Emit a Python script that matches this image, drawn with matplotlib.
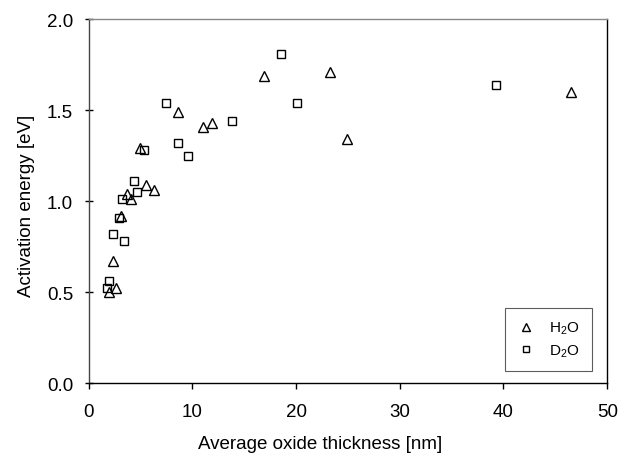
import matplotlib
matplotlib.use("Agg")
import matplotlib.pyplot as plt

plt.rcParams['font.family'] = ['Liberation Sans', 'DejaVu Sans']
plt.rcParams['mathtext.fontset'] = 'custom'
plt.rcParams['mathtext.rm'] = 'Liberation Sans'
plt.rcParams['mathtext.it'] = 'Liberation Sans:italic'
plt.rcParams['mathtext.bf'] = 'Liberation Sans:bold'

h2o_x = [2.0, 2.65, 2.4, 3.1, 3.7, 4.1, 5.0, 5.5, 6.3, 8.6, 11.0, 11.9, 16.9, 23.3, 24.9, 46.5]
h2o_y = [0.50, 0.52, 0.67, 0.92, 1.04, 1.01, 1.29, 1.09, 1.06, 1.49, 1.41, 1.43, 1.69, 1.71, 1.34, 1.60]

d2o_x = [1.8, 2.0, 2.4, 2.9, 3.2, 3.4, 4.4, 4.7, 5.3, 7.5, 8.6, 9.6, 13.8, 18.6, 20.1, 39.3]
d2o_y = [0.52, 0.56, 0.82, 0.91, 1.01, 0.78, 1.11, 1.05, 1.28, 1.54, 1.32, 1.25, 1.44, 1.81, 1.54, 1.64]

xticks = [0, 10, 20, 30, 40, 50]
yticks = [0.0, 0.5, 1.0, 1.5, 2.0]

fig = plt.figure(figsize=(6.19, 4.60), dpi=100)
ax = fig.add_axes([0.143, 0.165, 0.838, 0.791])

ax.plot(h2o_x, h2o_y, linestyle='none', marker='^', markersize=7.2,
        markerfacecolor='none', markeredgecolor='black', markeredgewidth=1.0, label='H$_\\mathrm{2}$O')
ax.plot(d2o_x, d2o_y, linestyle='none', marker='s', markersize=6.0,
        markerfacecolor='none', markeredgecolor='black', markeredgewidth=1.0, label='D$_\\mathrm{2}$O')

ax.set_xlim(0, 50)
ax.set_ylim(0, 2.0)
ax.set_xticks(xticks)
ax.set_yticks(yticks)
ax.set_xticklabels([str(v) for v in xticks])
ax.set_yticklabels([f"{v:.1f}" for v in yticks])
ax.tick_params(axis='x', direction='out', length=4, width=1, labelsize=13.5, pad=10)
ax.tick_params(axis='y', direction='inout', length=6, width=1, labelsize=13.5, pad=8)

ax.spines['top'].set_color('#888888')
ax.spines['left'].set_color('#444444')
ax.spines['bottom'].set_color('black')
ax.spines['right'].set_color('black')
for s in ax.spines.values():
    s.set_linewidth(1.0)

ax.set_xlabel('Average oxide thickness [nm]', fontsize=13.5)
ax.xaxis.set_label_coords(0.446, -0.143)
ax.set_ylabel('Activation energy [eV]', fontsize=13.5)
ax.yaxis.set_label_coords(-0.104, 0.49)

leg = ax.legend(loc='lower right', bbox_to_anchor=(0.971, 0.033), fontsize=11,
                frameon=True, fancybox=False, edgecolor='#333333', markerscale=0.8,
                handlelength=1.2, handletextpad=0.9, borderpad=0.8,
                labelspacing=0.4, borderaxespad=0)
leg.get_frame().set_linewidth(0.8)

fig.savefig('out.png', dpi=100)
